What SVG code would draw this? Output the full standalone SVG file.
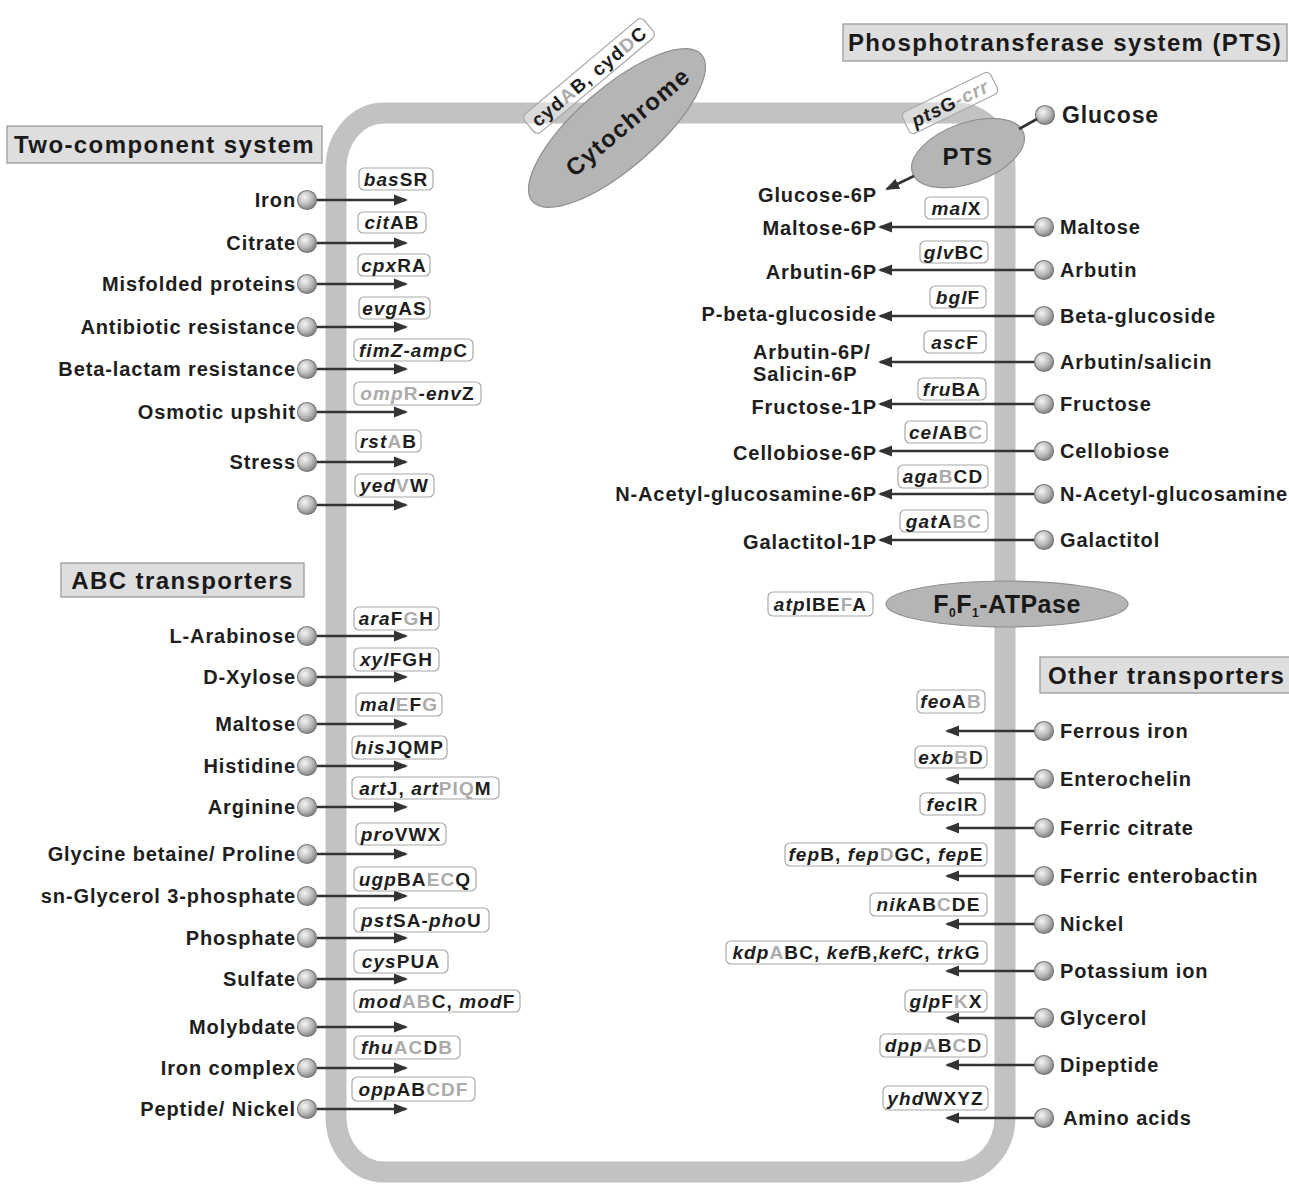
<svg xmlns="http://www.w3.org/2000/svg" width="1289" height="1184" viewBox="0 0 1289 1184">
<defs>
<radialGradient id="sph" cx="0.38" cy="0.35" r="0.7">
<stop offset="0" stop-color="#f5f5f5"/><stop offset="0.55" stop-color="#bcbcbc"/><stop offset="1" stop-color="#7a7a7a"/>
</radialGradient>
<marker id="ah" viewBox="0 0 14 12" refX="12" refY="6" markerWidth="14" markerHeight="12" markerUnits="userSpaceOnUse" orient="auto">
<path d="M0,0.5 L14,6 L0,11.5 Z" fill="#333"/>
</marker>
<style>
.lbl{font-family:"Liberation Sans",Arial,sans-serif;font-weight:bold;font-size:20px;letter-spacing:0.9px;fill:#1e1e1e}
.gene{font-family:"Liberation Sans",Arial,sans-serif;font-weight:bold;font-size:19px;letter-spacing:1.1px;fill:#1e1e1e;text-anchor:middle}
.i{font-style:italic}
.g{fill:#ababab}
.htx{font-family:"Liberation Sans",Arial,sans-serif;font-weight:bold;font-size:24px;letter-spacing:1.4px;fill:#1a1a1a}
.box{fill:#fff;stroke:#a8a8a8;stroke-width:1.2}
.hbox{fill:#dedede;stroke:#9c9c9c;stroke-width:1.3}
.mem{fill:none;stroke:#c2c2c2;stroke-width:21}
.ell{fill:#b5b5b5;stroke:#8f8f8f;stroke-width:1.2}
.ln{stroke:#333;stroke-width:2.6;fill:none}
.dot{fill:url(#sph);stroke:#7a7a7a;stroke-width:1.2}
.end{text-anchor:end}
</style>
</defs>
<rect width="1289" height="1184" fill="#fff"/>

<g id="membrane">
<rect class="mem" x="336" y="113" width="669" height="1059" rx="48" ry="55"/>
</g>

<g id="headers">
<g id="hdr-tcs"><rect class="hbox" x="7" y="126" width="315" height="37"/><text class="htx" x="164.5" y="153" text-anchor="middle">Two-component system</text></g>
<g id="hdr-abc"><rect class="hbox" x="61" y="563" width="243" height="34"/><text class="htx" x="182.5" y="589" text-anchor="middle">ABC transporters</text></g>
<g id="hdr-pts"><rect class="hbox" x="843" y="24" width="444" height="37"/><text class="htx" x="1065" y="51" text-anchor="middle">Phosphotransferase system (PTS)</text></g>
<g id="hdr-other"><rect class="hbox" x="1040" y="657" width="252" height="36"/><text class="htx" x="1048" y="684">Other transporters</text></g>
</g>

<g id="cytochrome">
<ellipse class="ell" cx="0" cy="0" rx="112" ry="40" transform="translate(617,128) rotate(-41)"/>
<text class="htx" x="0" y="8" text-anchor="middle" transform="translate(628,122) rotate(-40)">Cytochrome</text>
<g transform="translate(589,76) rotate(-40)">
<rect class="box" x="-78" y="-12" width="156" height="24" rx="5" fill-opacity="0.4"/>
<text class="gene" x="0" y="7">cyd<tspan class="g">A</tspan>B, cyd<tspan class="g">D</tspan>C</text>
</g>
</g>

<g id="pts">
<ellipse class="ell" cx="0" cy="0" rx="59" ry="30" transform="translate(968,153) rotate(-20)"/>
<text class="htx" x="968" y="165" text-anchor="middle">PTS</text>
<g transform="translate(950,103) rotate(-26)">
<rect class="box" x="-49" y="-12" width="98" height="24" rx="5" fill-opacity="0.4"/>
<text class="gene" x="0" y="7"><tspan class="i">pts</tspan>G<tspan class="i g">-crr</tspan></text>
</g>
</g>

<g id="glucose">
<circle class="dot" cx="1045" cy="115" r="9.5"/>
<text class="lbl" x="1062" y="123" style="font-size:23px">Glucose</text>
</g>
<g id="glucose6p"><text class="lbl end" x="877" y="202">Glucose-6P</text></g>

<g id="atpase">
<ellipse class="ell" cx="1007" cy="604" rx="121" ry="23"/>
<text x="1007" y="613" text-anchor="middle" style="font-family:'Liberation Sans',Arial,sans-serif;font-weight:bold;font-size:25px;letter-spacing:0.5px;fill:#1a1a1a">F<tspan font-size="12" dy="4">0</tspan><tspan dy="-4">F</tspan><tspan font-size="12" dy="4">1</tspan><tspan dy="-4">-ATPase</tspan></text>
<rect class="box" x="768" y="592" width="105" height="24" rx="5"/>
<text class="gene" x="820.5" y="610.5"><tspan class="i">atp</tspan>IBE<tspan class="g">F</tspan>A</text>
</g>

<g id="connectors">
<line class="ln" x1="1037" y1="119" x2="1019" y2="129"/>
<line class="ln" x1="914" y1="176" x2="887" y2="189" marker-end="url(#ah)"/>
<line class="ln" x1="316.5" y1="200" x2="406" y2="200" marker-end="url(#ah)"/>
<line class="ln" x1="316.5" y1="243" x2="406" y2="243" marker-end="url(#ah)"/>
<line class="ln" x1="316.5" y1="284" x2="406" y2="284" marker-end="url(#ah)"/>
<line class="ln" x1="316.5" y1="327" x2="406" y2="327" marker-end="url(#ah)"/>
<line class="ln" x1="316.5" y1="369" x2="406" y2="369" marker-end="url(#ah)"/>
<line class="ln" x1="316.5" y1="412" x2="406" y2="412" marker-end="url(#ah)"/>
<line class="ln" x1="316.5" y1="462" x2="406" y2="462" marker-end="url(#ah)"/>
<line class="ln" x1="316.5" y1="505" x2="406" y2="505" marker-end="url(#ah)"/>
<line class="ln" x1="316.5" y1="636" x2="406" y2="636" marker-end="url(#ah)"/>
<line class="ln" x1="316.5" y1="677" x2="406" y2="677" marker-end="url(#ah)"/>
<line class="ln" x1="316.5" y1="724" x2="406" y2="724" marker-end="url(#ah)"/>
<line class="ln" x1="316.5" y1="766" x2="406" y2="766" marker-end="url(#ah)"/>
<line class="ln" x1="316.5" y1="807" x2="406" y2="807" marker-end="url(#ah)"/>
<line class="ln" x1="316.5" y1="854" x2="406" y2="854" marker-end="url(#ah)"/>
<line class="ln" x1="316.5" y1="896" x2="406" y2="896" marker-end="url(#ah)"/>
<line class="ln" x1="316.5" y1="938" x2="406" y2="938" marker-end="url(#ah)"/>
<line class="ln" x1="316.5" y1="979" x2="406" y2="979" marker-end="url(#ah)"/>
<line class="ln" x1="316.5" y1="1027" x2="406" y2="1027" marker-end="url(#ah)"/>
<line class="ln" x1="316.5" y1="1068" x2="406" y2="1068" marker-end="url(#ah)"/>
<line class="ln" x1="316.5" y1="1109" x2="406" y2="1109" marker-end="url(#ah)"/>
<line class="ln" x1="1035" y1="227" x2="880" y2="227" marker-end="url(#ah)"/>
<line class="ln" x1="1035" y1="270" x2="880" y2="270" marker-end="url(#ah)"/>
<line class="ln" x1="1035" y1="316" x2="880" y2="316" marker-end="url(#ah)"/>
<line class="ln" x1="1035" y1="362" x2="880" y2="362" marker-end="url(#ah)"/>
<line class="ln" x1="1035" y1="404" x2="880" y2="404" marker-end="url(#ah)"/>
<line class="ln" x1="1035" y1="451" x2="880" y2="451" marker-end="url(#ah)"/>
<line class="ln" x1="1035" y1="494" x2="880" y2="494" marker-end="url(#ah)"/>
<line class="ln" x1="1035" y1="540" x2="880" y2="540" marker-end="url(#ah)"/>
<line class="ln" x1="1035" y1="731" x2="947" y2="731" marker-end="url(#ah)"/>
<line class="ln" x1="1035" y1="779" x2="947" y2="779" marker-end="url(#ah)"/>
<line class="ln" x1="1035" y1="828" x2="947" y2="828" marker-end="url(#ah)"/>
<line class="ln" x1="1035" y1="876" x2="947" y2="876" marker-end="url(#ah)"/>
<line class="ln" x1="1035" y1="924" x2="947" y2="924" marker-end="url(#ah)"/>
<line class="ln" x1="1035" y1="971" x2="947" y2="971" marker-end="url(#ah)"/>
<line class="ln" x1="1035" y1="1018" x2="947" y2="1018" marker-end="url(#ah)"/>
<line class="ln" x1="1035" y1="1065" x2="947" y2="1065" marker-end="url(#ah)"/>
<line class="ln" x1="1035" y1="1118" x2="947" y2="1118" marker-end="url(#ah)"/>
</g>

<g id="two-component">
<g id="n-iron"><text class="lbl end" x="296" y="207">Iron</text><circle class="dot" cx="307" cy="200" r="9.5"/><rect class="box" x="359" y="168" width="74" height="22" rx="5"/><text class="gene" x="396" y="185.5"><tspan class="i">bas</tspan>SR</text></g>
<g id="n-citrate"><text class="lbl end" x="296" y="250">Citrate</text><circle class="dot" cx="307" cy="243" r="9.5"/><rect class="box" x="358" y="212" width="68" height="21" rx="5"/><text class="gene" x="392" y="229"><tspan class="i">cit</tspan>AB</text></g>
<g id="n-misfolded"><text class="lbl end" x="296" y="291">Misfolded proteins</text><circle class="dot" cx="307" cy="284" r="9.5"/><rect class="box" x="358" y="254" width="72" height="22" rx="5"/><text class="gene" x="394" y="271.5"><tspan class="i">cpx</tspan>RA</text></g>
<g id="n-antibiotic"><text class="lbl end" x="296" y="334">Antibiotic resistance</text><circle class="dot" cx="307" cy="327" r="9.5"/><rect class="box" x="359" y="297" width="71" height="22" rx="5"/><text class="gene" x="394.5" y="314.5"><tspan class="i">evg</tspan>AS</text></g>
<g id="n-betalactam"><text class="lbl end" x="296" y="376">Beta-lactam resistance</text><circle class="dot" cx="307" cy="369" r="9.5"/><rect class="box" x="354" y="339" width="119" height="22" rx="5"/><text class="gene" x="413.5" y="356.5"><tspan class="i">fimZ-amp</tspan>C</text></g>
<g id="n-osmotic"><text class="lbl end" x="296" y="419">Osmotic upshit</text><circle class="dot" cx="307" cy="412" r="9.5"/><rect class="box" x="354" y="382" width="127" height="23" rx="5"/><text class="gene" x="417.5" y="400"><tspan class="i g">omp</tspan><tspan class="g">R</tspan>-<tspan class="i">env</tspan>Z</text></g>
<g id="n-stress"><text class="lbl end" x="296" y="469">Stress</text><circle class="dot" cx="307" cy="462" r="9.5"/><rect class="box" x="356" y="430" width="65" height="22" rx="5"/><text class="gene" x="388.5" y="447.5"><tspan class="i">rst</tspan><tspan class="g">A</tspan>B</text></g>
<g id="n-blank"><circle class="dot" cx="307" cy="505" r="9.5"/><rect class="box" x="355" y="474" width="79" height="23" rx="5"/><text class="gene" x="394.5" y="492"><tspan class="i">yed</tspan><tspan class="g">V</tspan>W</text></g>
</g>

<g id="abc">
<g id="n-arabinose"><text class="lbl end" x="296" y="643">L-Arabinose</text><circle class="dot" cx="307" cy="636" r="9.5"/><rect class="box" x="354" y="607" width="85" height="23" rx="5"/><text class="gene" x="396.5" y="625"><tspan class="i">ara</tspan>F<tspan class="g">G</tspan>H</text></g>
<g id="n-xylose"><text class="lbl end" x="296" y="684">D-Xylose</text><circle class="dot" cx="307" cy="677" r="9.5"/><rect class="box" x="354" y="648" width="85" height="23" rx="5"/><text class="gene" x="396.5" y="666"><tspan class="i">xyl</tspan>FGH</text></g>
<g id="n-maltose-abc"><text class="lbl end" x="296" y="731">Maltose</text><circle class="dot" cx="307" cy="724" r="9.5"/><rect class="box" x="356" y="693" width="86" height="23" rx="5"/><text class="gene" x="399" y="711"><tspan class="i">mal</tspan><tspan class="g">E</tspan>F<tspan class="g">G</tspan></text></g>
<g id="n-histidine"><text class="lbl end" x="296" y="773">Histidine</text><circle class="dot" cx="307" cy="766" r="9.5"/><rect class="box" x="352" y="736" width="95" height="23" rx="5"/><text class="gene" x="399.5" y="754"><tspan class="i">his</tspan>JQMP</text></g>
<g id="n-arginine"><text class="lbl end" x="296" y="814">Arginine</text><circle class="dot" cx="307" cy="807" r="9.5"/><rect class="box" x="352" y="777" width="147" height="22" rx="5"/><text class="gene" x="425.5" y="794.5"><tspan class="i">art</tspan>J, <tspan class="i">art</tspan><tspan class="g">PIQ</tspan>M</text></g>
<g id="n-glycine"><text class="lbl end" x="296" y="861">Glycine betaine/ Proline</text><circle class="dot" cx="307" cy="854" r="9.5"/><rect class="box" x="356" y="823" width="90" height="22" rx="5"/><text class="gene" x="401" y="840.5"><tspan class="i">pro</tspan>VWX</text></g>
<g id="n-glycerol3p"><text class="lbl end" x="296" y="903">sn-Glycerol 3-phosphate</text><circle class="dot" cx="307" cy="896" r="9.5"/><rect class="box" x="354" y="867" width="122" height="24" rx="5"/><text class="gene" x="415" y="885.5"><tspan class="i">ugp</tspan>BA<tspan class="g">EC</tspan>Q</text></g>
<g id="n-phosphate"><text class="lbl end" x="296" y="945">Phosphate</text><circle class="dot" cx="307" cy="938" r="9.5"/><rect class="box" x="354" y="908" width="135" height="24" rx="5"/><text class="gene" x="421.5" y="926.5"><tspan class="i">pst</tspan>SA-<tspan class="i">pho</tspan>U</text></g>
<g id="n-sulfate"><text class="lbl end" x="296" y="986">Sulfate</text><circle class="dot" cx="307" cy="979" r="9.5"/><rect class="box" x="354" y="950" width="94" height="23" rx="5"/><text class="gene" x="401" y="968"><tspan class="i">cys</tspan>PUA</text></g>
<g id="n-molybdate"><text class="lbl end" x="296" y="1034">Molybdate</text><circle class="dot" cx="307" cy="1027" r="9.5"/><rect class="box" x="354" y="990" width="166" height="22" rx="5"/><text class="gene" x="437" y="1007.5"><tspan class="i">mod</tspan><tspan class="g">AB</tspan>C, <tspan class="i">mod</tspan>F</text></g>
<g id="n-ironcomplex"><text class="lbl end" x="296" y="1075">Iron complex</text><circle class="dot" cx="307" cy="1068" r="9.5"/><rect class="box" x="354" y="1036" width="106" height="23" rx="5"/><text class="gene" x="407" y="1054"><tspan class="i">fhu</tspan><tspan class="g">AC</tspan>D<tspan class="g">B</tspan></text></g>
<g id="n-peptide"><text class="lbl end" x="296" y="1116">Peptide/ Nickel</text><circle class="dot" cx="307" cy="1109" r="9.5"/><rect class="box" x="352" y="1077" width="123" height="24" rx="5"/><text class="gene" x="413.5" y="1095.5"><tspan class="i">opp</tspan>AB<tspan class="g">CDF</tspan></text></g>
</g>

<g id="pts-rows">
<g id="n-maltose"><circle class="dot" cx="1044" cy="227" r="9.5"/><text class="lbl" x="1060" y="234">Maltose</text><text class="lbl end" x="877" y="235">Maltose-6P</text><rect class="box" x="925" y="197" width="63" height="22" rx="5"/><text class="gene" x="956.5" y="214.5"><tspan class="i">mal</tspan>X</text></g>
<g id="n-arbutin"><circle class="dot" cx="1044" cy="270" r="9.5"/><text class="lbl" x="1060" y="277">Arbutin</text><text class="lbl end" x="877" y="279">Arbutin-6P</text><rect class="box" x="920" y="241" width="68" height="22" rx="5"/><text class="gene" x="954" y="258.5"><tspan class="i">glv</tspan>BC</text></g>
<g id="n-betaglucoside"><circle class="dot" cx="1044" cy="316" r="9.5"/><text class="lbl" x="1060" y="323">Beta-glucoside</text><text class="lbl end" x="877" y="321">P-beta-glucoside</text><rect class="box" x="930" y="286" width="56" height="22" rx="5"/><text class="gene" x="958" y="303.5"><tspan class="i">bgl</tspan>F</text></g>
<g id="n-arbutinsalicin"><circle class="dot" cx="1044" cy="362" r="9.5"/><text class="lbl" x="1060" y="369">Arbutin/salicin</text><text class="lbl" x="753" y="359">Arbutin-6P/</text><text class="lbl" x="753" y="381">Salicin-6P</text><rect class="box" x="924" y="331" width="62" height="22" rx="5"/><text class="gene" x="955" y="348.5"><tspan class="i">asc</tspan>F</text></g>
<g id="n-fructose"><circle class="dot" cx="1044" cy="404" r="9.5"/><text class="lbl" x="1060" y="411">Fructose</text><text class="lbl end" x="877" y="414">Fructose-1P</text><rect class="box" x="918" y="378" width="68" height="22" rx="5"/><text class="gene" x="952" y="395.5"><tspan class="i">fru</tspan>BA</text></g>
<g id="n-cellobiose"><circle class="dot" cx="1044" cy="451" r="9.5"/><text class="lbl" x="1060" y="458">Cellobiose</text><text class="lbl end" x="877" y="460">Cellobiose-6P</text><rect class="box" x="905" y="421" width="82" height="22" rx="5"/><text class="gene" x="946" y="438.5"><tspan class="i">cel</tspan>AB<tspan class="g">C</tspan></text></g>
<g id="n-nacetyl"><circle class="dot" cx="1044" cy="494" r="9.5"/><text class="lbl" x="1060" y="501">N-Acetyl-glucosamine</text><text class="lbl end" x="877" y="501">N-Acetyl-glucosamine-6P</text><rect class="box" x="898" y="465" width="90" height="23" rx="5"/><text class="gene" x="943" y="483"><tspan class="i">aga</tspan><tspan class="g">B</tspan>CD</text></g>
<g id="n-galactitol"><circle class="dot" cx="1044" cy="540" r="9.5"/><text class="lbl" x="1060" y="547">Galactitol</text><text class="lbl end" x="877" y="549">Galactitol-1P</text><rect class="box" x="900" y="510" width="88" height="22" rx="5"/><text class="gene" x="944" y="527.5"><tspan class="i">gat</tspan>A<tspan class="g">BC</tspan></text></g>
</g>

<g id="other-rows">
<g id="n-ferrous"><circle class="dot" cx="1044" cy="731" r="9.5"/><text class="lbl" x="1060" y="738">Ferrous iron</text><rect class="box" x="917" y="690" width="68" height="23" rx="5"/><text class="gene" x="951" y="708"><tspan class="i">feo</tspan>A<tspan class="g">B</tspan></text></g>
<g id="n-enterochelin"><circle class="dot" cx="1044" cy="779" r="9.5"/><text class="lbl" x="1060" y="786">Enterochelin</text><rect class="box" x="915" y="746" width="72" height="22" rx="5"/><text class="gene" x="951" y="763.5"><tspan class="i">exb</tspan><tspan class="g">B</tspan>D</text></g>
<g id="n-ferriccitrate"><circle class="dot" cx="1044" cy="828" r="9.5"/><text class="lbl" x="1060" y="835">Ferric citrate</text><rect class="box" x="920" y="793" width="65" height="22" rx="5"/><text class="gene" x="952.5" y="810.5"><tspan class="i">fec</tspan>IR</text></g>
<g id="n-enterobactin"><circle class="dot" cx="1044" cy="876" r="9.5"/><text class="lbl" x="1060" y="883">Ferric enterobactin</text><rect class="box" x="785" y="843" width="202" height="23" rx="5"/><text class="gene" x="886" y="861"><tspan class="i">fep</tspan>B, <tspan class="i">fep</tspan><tspan class="g">D</tspan>GC, <tspan class="i">fep</tspan>E</text></g>
<g id="n-nickel"><circle class="dot" cx="1044" cy="924" r="9.5"/><text class="lbl" x="1060" y="931">Nickel</text><rect class="box" x="870" y="893" width="117" height="23" rx="5"/><text class="gene" x="928.5" y="911"><tspan class="i">nik</tspan>AB<tspan class="g">C</tspan>DE</text></g>
<g id="n-potassium"><circle class="dot" cx="1044" cy="971" r="9.5"/><text class="lbl" x="1060" y="978">Potassium ion</text><rect class="box" x="726" y="941" width="261" height="23" rx="5"/><text class="gene" x="856.5" y="959"><tspan class="i">kdp</tspan><tspan class="g">A</tspan>BC, <tspan class="i">kef</tspan>B,<tspan class="i">kef</tspan>C, <tspan class="i">trk</tspan>G</text></g>
<g id="n-glycerol"><circle class="dot" cx="1044" cy="1018" r="9.5"/><text class="lbl" x="1060" y="1025">Glycerol</text><rect class="box" x="905" y="990" width="82" height="22" rx="5"/><text class="gene" x="946" y="1007.5"><tspan class="i">glp</tspan>F<tspan class="g">K</tspan>X</text></g>
<g id="n-dipeptide"><circle class="dot" cx="1044" cy="1065" r="9.5"/><text class="lbl" x="1060" y="1072">Dipeptide</text><rect class="box" x="880" y="1034" width="107" height="23" rx="5"/><text class="gene" x="933.5" y="1052"><tspan class="i">dpp</tspan><tspan class="g">A</tspan>B<tspan class="g">C</tspan>D</text></g>
<g id="n-aminoacids"><circle class="dot" cx="1044" cy="1118" r="9.5"/><text class="lbl" x="1063" y="1125">Amino acids</text><rect class="box" x="883" y="1086" width="105" height="24" rx="5"/><text class="gene" x="935.5" y="1104.5"><tspan class="i">yhd</tspan>WXYZ</text></g>
</g>
</svg>
